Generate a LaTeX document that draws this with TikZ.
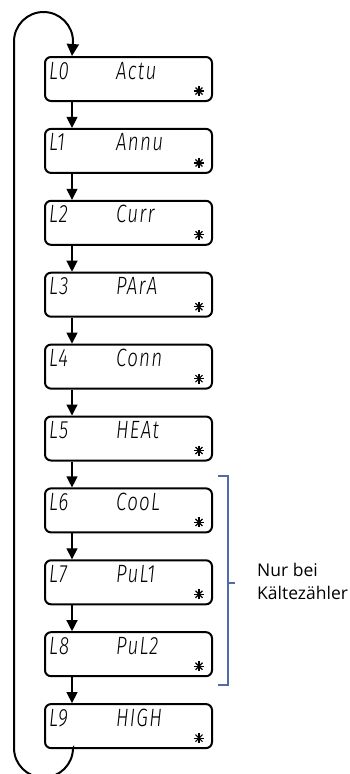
\documentclass[tikz,border=0pt]{standalone}
\usepackage{fontspec}
\usetikzlibrary{arrows.meta,calc}
\newfontfamily\lcdfont{Fira Sans Light Italic}[FakeStretch=0.75,LetterSpace=5]
\newfontfamily\opensans{Open Sans}
\definecolor{bracketblue}{RGB}{80,108,168}
\tikzset{
  lcdbox/.style={draw=black, line width=2pt, rounded corners=6pt, minimum width=167pt, minimum height=44pt, inner sep=0pt},
  lcdtext/.style={font=\lcdfont\fontsize{25}{25}\selectfont, inner sep=0pt, anchor=base west},
  steparrow/.style={draw=black, line width=1.3pt, -{Triangle[length=11pt,width=11pt]}},
  looparrow/.style={draw=black, line width=2pt, -{Triangle[length=12pt,width=12pt]}},
  starline/.style={draw=black, line width=1.2pt},
  bracketline/.style={draw=bracketblue, line width=1.6pt},
  notetext/.style={font=\opensans\fontsize{17.5}{17.5}\selectfont, inner sep=0pt, anchor=base west}
}
\begin{document}
\begin{tikzpicture}[x=1pt,y=1pt]
\useasboundingbox (0,0) rectangle (350,-774);
\foreach \i/\code/\name in {0/L0/Actu,1/L1/Annu,2/L2/Curr,3/L3/PArA,4/L4/Conn,5/L5/HEAt,6/L6/CooL,7/L7/PuL1,8/L8/PuL2,9/L9/HIGH}{
  \node[lcdbox] (b\i) at (128.5,{-(57+71.9*\i+22)}) {};
  \node[lcdtext] (c\i) at ($(b\i.north west)+(5,-23)$) {\code};
  \node[lcdtext] (n\i) at ($(b\i.north west)+(72,-23)$) {\name};
  \coordinate (s\i) at ($(b\i.north east)+(-14,-35)$);
  \draw[starline] ($(s\i)+(0,5)$) -- ($(s\i)+(0,-5)$);
  \draw[starline] ($(s\i)+(5,0)$) -- ($(s\i)+(-5,0)$);
  \draw[starline] ($(s\i)+(3.5,3.5)$) -- ($(s\i)+(-3.5,-3.5)$);
  \draw[starline] ($(s\i)+(3.5,-3.5)$) -- ($(s\i)+(-3.5,3.5)$);
}
\foreach \i [evaluate=\i as \j using int(\i+1)] in {0,...,8}{
  \draw[steparrow] ($(b\i.south west)+(28,0)$) -- ($(b\j.north west)+(28,0)$);
}
\draw[looparrow] ($(b9.south west)+(28,0)$) -- (73,-748)
  arc[start angle=0,end angle=-180,radius=29.5pt] -- (14,-41.5)
  arc[start angle=180,end angle=0,radius=29.5pt] -- ($(b0.north west)+(28,0)$);
\coordinate (brtop) at (228,-476);
\coordinate (brbot) at (228,-685);
\coordinate (brmid) at (228,-583);
\draw[bracketline] (218,-476) -- (brtop) -- (brbot) -- (218,-685);
\draw[bracketline] (brmid) -- (235,-583);
\node[notetext] (nur) at (257,-576) {Nur bei};
\node[notetext] (kalte) at (257,-599) {Kältezähler};
\end{tikzpicture}
\end{document}
